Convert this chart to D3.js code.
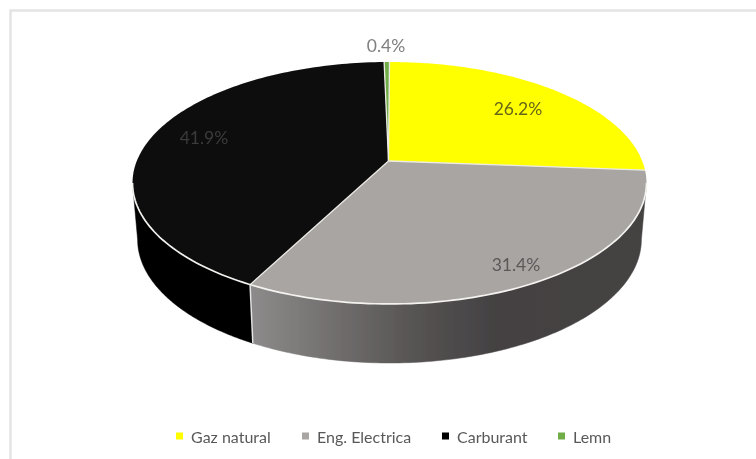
<!DOCTYPE html>
<html><head><meta charset="utf-8">
<script src="https://cdn.jsdelivr.net/npm/d3@7/dist/d3.min.js"></script>
<style>html,body{margin:0;padding:0;background:#fff}svg{display:block}</style>
</head><body><div id="c"></div>
<script>
const categories = ["Gaz natural", "Eng. Electrica", "Carburant", "Lemn"];
const values = [26.2, 31.4, 41.9, 0.4];
const labels = ["26.2%", "31.4%", "41.9%", "0.4%"];
const topColors = ["#ffff00", "#a9a5a3", "#0b0b0b", "#70ad47"];
const sideColors = ["#8f8f00", "url(#greySide)", "#060606", "#4a7a2e"];
const labelPos = [[518,108],[516,264],[204,137],[386,45]];
const labelColors = ["#66661a","#5c5859","#3a3a3a","#7f7f7f"];
const legendX = [176, 302, 442, 558];

const W = 756, H = 459;
const svg = d3.select("#c").append("svg").attr("width", W).attr("height", H);
const defs = svg.append("defs");
defs.append("filter").attr("id","soft").append("feGaussianBlur").attr("stdDeviation",0.5);
const grad = defs.append("linearGradient").attr("id","greySide")
  .attr("gradientUnits","userSpaceOnUse").attr("x1",250).attr("x2",646).attr("y1",0).attr("y2",0);
[[0,"#8d8b8b"],[0.23,"#6f6c6b"],[0.42,"#565353"],[0.62,"#444142"],[1,"#454243"]]
  .forEach(s => grad.append("stop").attr("offset",s[0]).attr("stop-color",s[1]));

// frame: only top and left edges fall inside the picture
svg.append("path").attr("d","M756,10.5H10.5V459").attr("fill","none")
  .attr("stroke","#e4e4e4").attr("stroke-width",2.5);

const cx = 389.5, persp = 0.1818;
const project = (disc, t) => {
  const u = Math.sin(t), v = Math.cos(t), w = 1 + persp * v;
  return [cx + disc.R * u / w, (disc.b + disc.a * v) / w];
};
const topDisc = {R: 252.7, a: -87.7, b: 161};
const botDisc = {R: 247.7, a: -80, b: 217};
const apex = [cx - 1, topDisc.b];
// angles where the rim turns to the front
const frontStart = Math.acos(-persp), frontEnd = 2 * Math.PI - frontStart;

const arcs = d3.pie().sort(null).value(d => d)(values);
const line = d3.line();
const rim = (disc, a0, a1) => d3.range(0, 121).map(i => project(disc, a0 + (a1 - a0) * i / 120));

const g = svg.append("g").attr("filter","url(#soft)");
// side walls, front part only
const sides = arcs.map((d,i) => ({i, a0: Math.max(d.startAngle, frontStart), a1: Math.min(d.endAngle, frontEnd)}))
  .filter(s => s.a1 > s.a0);
g.selectAll(".side").data(sides).join("path").attr("class","side")
  .attr("d", s => line(rim(topDisc,s.a0,s.a1).concat(rim(botDisc,s.a0,s.a1).reverse())) + "Z")
  .attr("fill",s=>sideColors[s.i]).attr("stroke",s=>sideColors[s.i]).attr("stroke-width",0.5);
// top slices
g.selectAll(".top").data(arcs).join("path").attr("class","top")
  .attr("d", d => line([apex].concat(rim(topDisc,d.startAngle,d.endAngle))) + "Z")
  .attr("fill",(d,i)=>topColors[i]);
// radial separators
const edge = "#ecebe6";
g.selectAll(".rad").data(arcs).join("path").attr("class","rad")
  .attr("d", d => line([apex, project(topDisc,d.startAngle)]))
  .attr("fill","none").attr("stroke",edge).attr("stroke-width",1.3);
// front rim
g.append("path").attr("d", line(rim(topDisc,frontStart,frontEnd)))
  .attr("fill","none").attr("stroke","#f4f3f0").attr("stroke-width",1.7);
// seam between grey and black walls
const seam = arcs[1].endAngle;
g.append("path").attr("d", line([project(topDisc,seam),project(botDisc,seam)]))
  .attr("stroke","#e4e4e4").attr("stroke-width",1.5).attr("fill","none");

// data labels
svg.selectAll(".lbl").data(labels).join("text").attr("class","lbl")
  .attr("x",(d,i)=>labelPos[i][0]).attr("y",(d,i)=>labelPos[i][1])
  .attr("text-anchor","middle").attr("dominant-baseline","central")
  .attr("font-family","Lato, 'Open Sans', sans-serif").attr("font-size",17.5)
  .attr("fill",(d,i)=>labelColors[i]).attr("filter","url(#soft)").text(d=>d);

// legend
const leg = svg.selectAll(".leg").data(categories).join("g").attr("class","leg")
  .attr("transform",(d,i)=>`translate(${legendX[i]},436)`).attr("filter","url(#soft)");
leg.append("rect").attr("x",0).attr("y",-3.5).attr("width",7).attr("height",7).attr("fill",(d,i)=>topColors[i]==="#0b0b0b"?"#000":topColors[i]);
leg.append("text").attr("x",15).attr("y",0).attr("dominant-baseline","central")
  .attr("font-family","Lato, 'Open Sans', sans-serif").attr("font-size",16).attr("fill","#595959").text(d=>d);
</script></body></html>
